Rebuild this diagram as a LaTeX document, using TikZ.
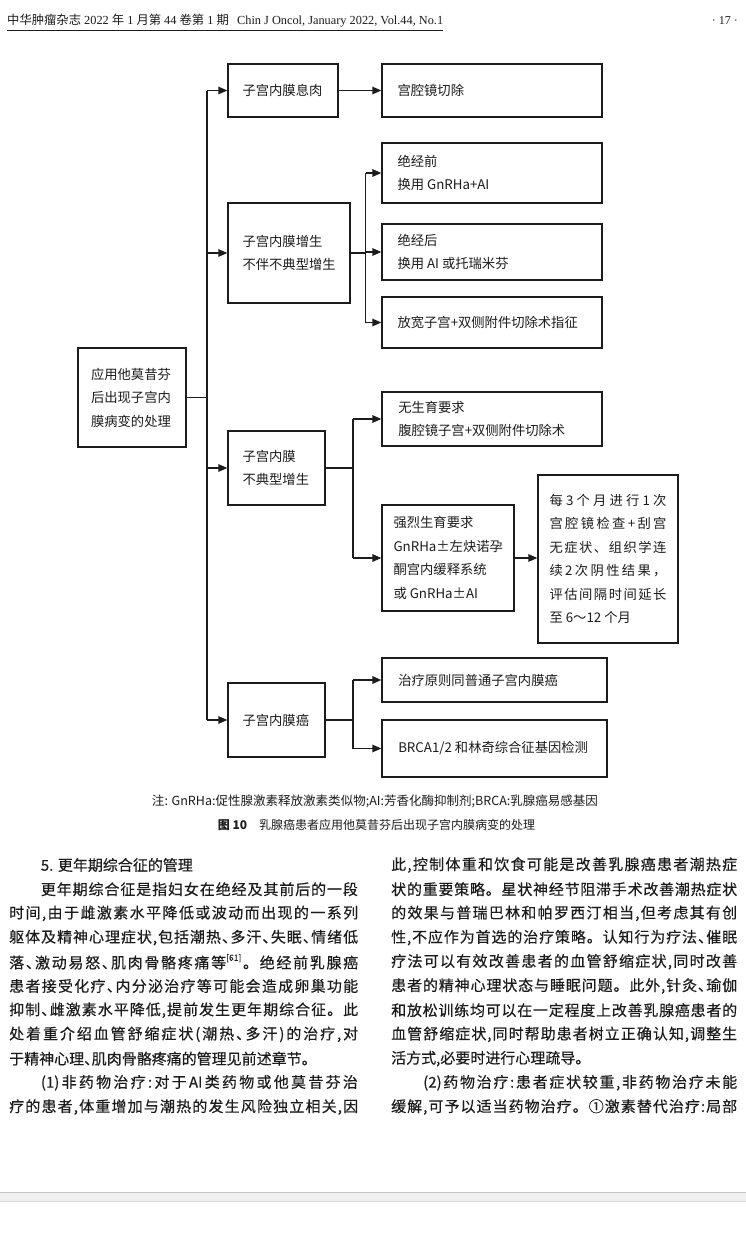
\documentclass[tikz,border=0pt]{standalone}
\usepackage{fontspec}
\usepackage{graphicx}
\setmainfont{Liberation Serif}
\newfontfamily\cjk{Noto Sans CJK SC}
\newfontfamily\cjkb{Noto Sans CJK SC}[UprightFeatures={FakeBold=0.35}]
\usetikzlibrary{arrows.meta}
\definecolor{ink}{RGB}{28,28,28}
\newcommand\bxf{\cjk\fontsize{13.3}{23.5}\selectfont}
\newcommand\bdf{\cjkb\fontsize{15}{18}\selectfont}
\newcommand\dn{\makebox[0.5em][l]{、}}
\newcommand\sups[1]{\raisebox{0.5em}{\fontsize{8.5}{9}\selectfont #1}}
\makeatletter
\def\jus@stop{\jus@end}
\newcommand\jus[2]{\hbox to #1{\jus@a#2\jus@end}}
\def\jus@a#1{#1\jus@b}
\def\jus@b#1{\def\jus@tmp{#1}\ifx\jus@tmp\jus@stop\else\hfil#1\expandafter\jus@b\fi}
\makeatother
\newcommand\bx[7]{%
 \pgfmathsetmacro\bxcx{(#2+#4)/2}%
 \pgfmathsetmacro\bxcy{(#3+#5)/2}%
 \pgfmathsetmacro\bxw{#4-#2}%
 \pgfmathsetmacro\bxh{#5-#3}%
 \node[bxr,minimum width=\bxw pt,minimum height=\bxh pt] (#1) at (\bxcx,\bxcy) {};%
 \node[bxt] (#1t) at ([xshift=#6pt]#1.west) {#7};}
\begin{document}
\begin{tikzpicture}[x=1pt,y=-1pt,
 ln/.style={draw=ink,line width=1.3pt},
 arr/.style={draw=ink,line width=1.3pt,-{Triangle[length=9pt,width=7.5pt]}},
 bxr/.style={draw=ink,line width=1.3pt,inner sep=0pt},
 bxt/.style={font=\bxf,align=left,inner sep=0pt,text=ink,anchor=west},
 bd/.style={font=\bdf,inner sep=0pt,text=ink,anchor=west}]
\fill[white] (0,0) rectangle (746,1255);
\useasboundingbox (0,0) rectangle (746,1255);
% header
\node[anchor=west,inner sep=0pt,text=ink] (hd) at (7,21) {\resizebox{436pt}{!}{\fontsize{12}{12}\selectfont{\cjk 中华肿瘤杂志} 2022 {\cjk 年} 1 {\cjk 月第} 44 {\cjk 卷第} 1 {\cjk 期}\hspace{8pt}Chin J Oncol, January 2022, Vol.44, No.1}};
\draw[ink,line width=0.8pt] ([yshift=-3pt]hd.south west) -- ([yshift=-3pt]hd.south east);
\node[anchor=east,inner sep=0pt,text=ink,font=\fontsize{12}{12}\selectfont] (pg) at (738,21) {· 17 ·};
% boxes
\bx{root}{78}{348}{186}{447}{13.5}{应用他莫昔芬\\后出现子宫内\\膜病变的处理}
\bx{xr}{228}{64}{338}{117}{15}{子宫内膜息肉}
\bx{qc}{382}{64}{602}{117}{16}{宫腔镜切除}
\bx{jq}{382}{143}{602}{203}{16}{绝经前\\换用 GnRHa+AI}
\bx{zs}{228}{203}{350}{303}{15}{子宫内膜增生\\不伴不典型增生}
\bx{jh}{382}{224}{602}{280}{16}{绝经后\\换用 AI 或托瑞米芬}
\bx{fk}{382}{297}{602}{348}{16}{放宽子宫+双侧附件切除术指征}
\bx{bd}{228}{431}{325}{505}{15}{子宫内膜\\不典型增生}
\bx{ws}{382}{392}{602}{446}{16.7}{\fontsize{13.3}{22.5}\selectfont 无生育要求\\腹腔镜子宫+双侧附件切除术}
\bx{ql}{382}{505}{514}{611}{12}{\fontsize{13.3}{22.5}\selectfont 强烈生育要求\\GnRHa±左炔诺孕\\酮宫内缓释系统\\或 GnRHa±AI}
\bx{mg}{538}{475}{678}{643}{12}{\fontsize{13.3}{23.9}\selectfont\jus{117pt}{每 3 个月进行 1 次}\\\jus{117pt}{宫腔镜检查+刮宫}\\\jus{117pt}{无症状、组织学连}\\\jus{117pt}{续 2 次阴性结果，}\\\jus{117pt}{评估间隔时间延长}\\至 6～12 个月}
\bx{zl}{382}{658}{607}{702}{16.7}{治疗原则同普通子宫内膜癌}
\bx{ca}{228}{683}{325}{757}{15}{子宫内膜癌}
\bx{br}{382}{720}{607}{777}{16.7}{BRCA1/2 和林奇综合征基因检测}
% connectors
\coordinate (sp) at (207,0);
\draw[ln] (root.east) -- (root.east -| sp);
\draw[ln] (sp |- xr.west) -- (sp |- ca.west);
\foreach \n in {xr,zs,bd,ca} \draw[arr] (sp |- \n.west) -- (\n.west);
\draw[arr] (xr.east) -- (qc.west);
\coordinate (s2) at (365.7,0);
\draw[ln] (zs.east) -- (zs.east -| s2);
\draw[ln] (s2 |- jq.west) -- (s2 |- fk.west);
\foreach \n in {jq,jh,fk} \draw[arr] (s2 |- \n.west) -- (\n.west);
\coordinate (s3) at (353,0);
\draw[ln] (bd.east) -- (bd.east -| s3);
\draw[ln] (s3 |- ws.west) -- (s3 |- ql.west);
\foreach \n in {ws,ql} \draw[arr] (s3 |- \n.west) -- (\n.west);
\draw[arr] (ql.east) -- (ql.east -| mg.west);
\draw[ln] (ca.east) -- (ca.east -| s3);
\draw[ln] (s3 |- zl.west) -- (s3 |- br.west);
\foreach \n in {zl,br} \draw[arr] (s3 |- \n.west) -- (\n.west);
% note and caption
\node[inner sep=0pt,text=ink] (nt) at (375,801) {\resizebox{446pt}{!}{\cjk\fontsize{12}{12}\selectfont 注: GnRHa:促性腺激素释放激素类似物;AI:芳香化酶抑制剂;BRCA:乳腺癌易感基因}};
\node[inner sep=0pt,text=ink] (cp) at (376.5,825) {\cjk\fontsize{12}{12}\selectfont{\bfseries 图 10}\quad 乳腺癌患者应用他莫昔芬后出现子宫内膜病变的处理};
% body left
\node[bd] (l0) at (40.7,865) {5. 更年期综合征的管理};
\node[bd] (l1) at (40.7,889.2) {\jus{317pt}{更年期综合征是指妇女在绝经及其前后的一段}};
\node[bd] (l2) at (9,913.4) {\jus{349pt}{时间,由于雌激素水平降低或波动而出现的一系列}};
\node[bd] (l3) at (9,937.6) {\jus{349pt}{躯体及精神心理症状,包括潮热\dn 多汗\dn 失眠\dn 情绪低}};
\node[bd] (l4) at (9,961.8) {\jus{349pt}{落\dn 激动易怒\dn 肌肉骨骼疼痛{等\sups{[61]}}。绝经前乳腺癌}};
\node[bd] (l5) at (9,986) {\jus{349pt}{患者接受化疗\dn 内分泌治疗等可能会造成卵巢功能}};
\node[bd] (l6) at (9,1010.2) {\jus{349pt}{抑制\dn 雌激素水平降低,提前发生更年期综合征。此}};
\node[bd] (l7) at (9,1034.4) {\jus{349pt}{处着重介绍血管舒缩症状(潮热\dn 多汗)的治疗,对}};
\node[bd] (l8) at (9,1058.6) {于精神心理\dn 肌肉骨骼疼痛的管理见前述章节。};
\node[bd] (l9) at (40.7,1082.8) {\jus{317pt}{{(1)}非药物治疗:对于{AI}类药物或他莫昔芬治}};
\node[bd] (l10) at (9,1107) {\jus{349pt}{疗的患者,体重增加与潮热的发生风险独立相关,因}};
% body right
\node[bd] (r0) at (391,865) {\jus{346pt}{此,控制体重和饮食可能是改善乳腺癌患者潮热症}};
\node[bd] (r1) at (391,889.2) {\jus{346pt}{状的重要策略。星状神经节阻滞手术改善潮热症状}};
\node[bd] (r2) at (391,913.4) {\jus{346pt}{的效果与普瑞巴林和帕罗西汀相当,但考虑其有创}};
\node[bd] (r3) at (391,937.6) {\jus{346pt}{性,不应作为首选的治疗策略。认知行为疗法\dn 催眠}};
\node[bd] (r4) at (391,961.8) {\jus{346pt}{疗法可以有效改善患者的血管舒缩症状,同时改善}};
\node[bd] (r5) at (391,986) {\jus{346pt}{患者的精神心理状态与睡眠问题。此外,针灸\dn 瑜伽}};
\node[bd] (r6) at (391,1010.2) {\jus{346pt}{和放松训练均可以在一定程度上改善乳腺癌患者的}};
\node[bd] (r7) at (391,1034.4) {\jus{346pt}{血管舒缩症状,同时帮助患者树立正确认知,调整生}};
\node[bd] (r8) at (391,1058.6) {活方式,必要时进行心理疏导。};
\node[bd] (r9) at (423,1082.8) {\jus{314pt}{{(2)}药物治疗:患者症状较重,非药物治疗未能}};
\node[bd] (r10) at (391,1107) {\jus{346pt}{缓解,可予以适当药物治疗。①激素替代治疗:局部}};
% bottom band
\fill[gray!12] (0,1192) rectangle (746,1201);
\draw[gray!45,line width=0.8pt] (0,1192) -- (746,1192);
\draw[gray!30,line width=0.6pt] (0,1201) -- (746,1201);
\end{tikzpicture}
\end{document}
